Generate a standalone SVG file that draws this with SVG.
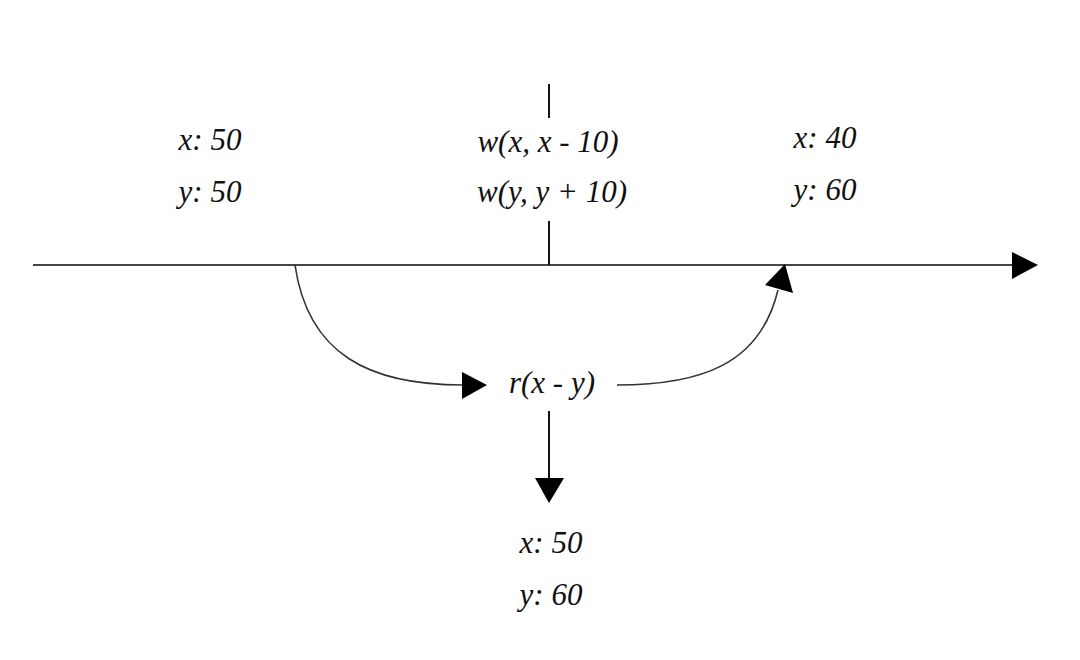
<svg xmlns="http://www.w3.org/2000/svg" width="1080" height="660" viewBox="0 0 1080 660">
<style>
.t{font-family:"Liberation Serif","Times New Roman",serif;font-style:italic;font-size:31px;fill:#111;text-anchor:middle}
.ln{stroke:#4a4743;stroke-width:2;fill:none}
.c{stroke:#333;stroke-width:1.6;fill:none}
.tk{stroke:#111;stroke-width:2;fill:none}
.ah{fill:#000}
</style>
<rect width="1080" height="660" fill="#fff"/>
<g id="connectors">
<line class="ln" x1="33" y1="265" x2="1014" y2="265"/>
<polygon class="ah" points="1012,252 1038,265 1012,279"/>
<line class="tk" x1="549" y1="84" x2="549" y2="118"/>
<line class="tk" x1="549" y1="221" x2="549" y2="265"/>
<path class="c" d="M295 265 C308 355 370 385 463 385"/>
<polygon class="ah" points="462,372 487,385 462,399"/>
<path class="c" d="M617 385 C700 385 760 365 778 290"/>
<polygon class="ah" points="785,264 793,293 765,285"/>
<line class="tk" x1="549" y1="411" x2="549" y2="480"/>
<polygon class="ah" points="535,478 564,478 549,503"/>
</g>
<g id="node-left">
<text class="t" x="210" y="150">x: 50</text>
<text class="t" x="210" y="202">y: 50</text>
</g>
<g id="node-write">
<text class="t" x="548" y="152">w(x, x - 10)</text>
<text class="t" x="552" y="202">w(y, y + 10)</text>
</g>
<g id="node-right">
<text class="t" x="825" y="148">x: 40</text>
<text class="t" x="825" y="200">y: 60</text>
</g>
<g id="node-read">
<text class="t" x="552" y="393">r(x - y)</text>
</g>
<g id="node-bottom">
<text class="t" x="551" y="553">x: 50</text>
<text class="t" x="551" y="605">y: 60</text>
</g>
</svg>
